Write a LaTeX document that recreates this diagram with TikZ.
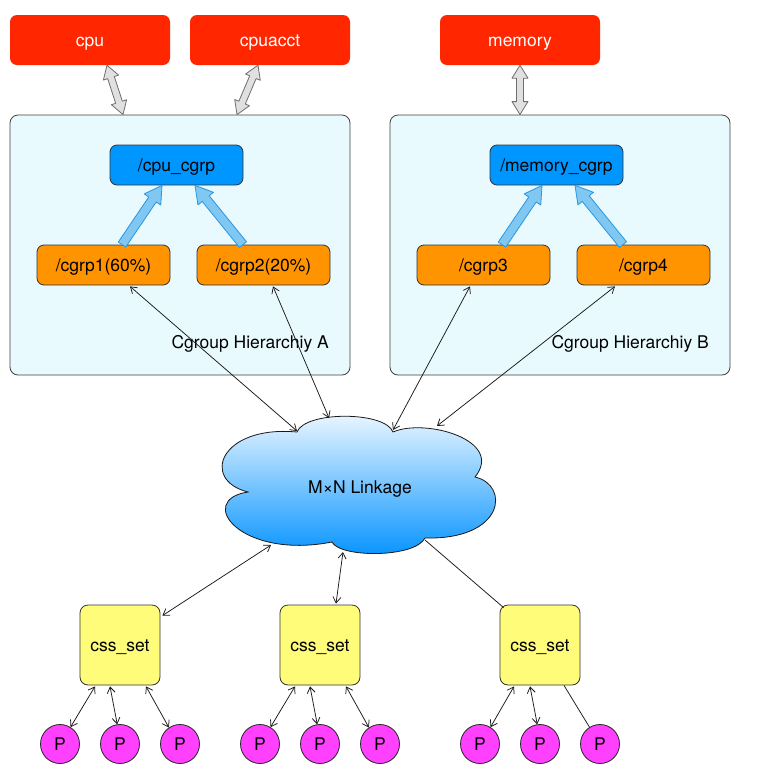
\documentclass[tikz,border=0pt]{standalone}
\usepackage{fontspec}
\setmainfont{TeX Gyre Heros}
\usetikzlibrary{arrows.meta,calc}
\definecolor{cgred}{RGB}{255,38,0}
\definecolor{cgcyan}{RGB}{233,250,255}
\definecolor{cgblue}{RGB}{0,150,255}
\definecolor{cgorange}{RGB}{255,147,0}
\definecolor{cgyellow}{RGB}{255,252,121}
\definecolor{cgmagenta}{RGB}{255,64,255}
\definecolor{fatfill}{RGB}{128,200,242}
\definecolor{fatborder}{RGB}{40,150,225}
\definecolor{grayfill}{RGB}{224,224,224}
\definecolor{grayborder}{RGB}{110,110,110}
\definecolor{cloudtop}{RGB}{238,248,255}
\definecolor{cloudbot}{RGB}{0,145,255}
\tikzset{
  txt/.style={text height=12.5pt, text depth=0pt},
  redbox/.style={txt, rectangle, rounded corners=7pt, fill=cgred, text=white, minimum width=160pt, minimum height=50pt, inner sep=0pt},
  hierbox/.style={rectangle, rounded corners=8pt, draw=black!75, fill=cgcyan, line width=0.8pt, minimum width=340pt, minimum height=260pt, inner sep=0pt},
  bluebox/.style={txt, rectangle, rounded corners=7pt, draw=black!80, fill=cgblue, line width=0.8pt, minimum width=133pt, minimum height=40pt, inner sep=0pt},
  orangebox/.style={txt, rectangle, rounded corners=7pt, draw=black!80, fill=cgorange, line width=0.8pt, minimum width=133pt, minimum height=40pt, inner sep=0pt},
  cssbox/.style={txt, rectangle, rounded corners=8pt, draw=black!80, fill=cgyellow, line width=0.8pt, minimum width=80pt, minimum height=80pt, inner sep=0pt},
  pnode/.style={txt, circle, draw=black!85, fill=cgmagenta, line width=0.8pt, minimum size=39pt, inner sep=0pt},
  link/.style={draw=black!90, line width=0.75pt},
  dlink/.style={link, {Straight Barb[length=6pt,width=8pt]}-{Straight Barb[length=6pt,width=8pt]}},
  fatarrow/.style={draw=fatborder, fill=fatfill, line width=0.8pt, line join=round,
    to path={
      ($(\tikztostart)!4.5pt!90:(\tikztotarget)$) --
      ($(\tikztotarget)!17pt!(\tikztostart)!4.5pt!90:(\tikztotarget)$) --
      ($(\tikztotarget)!17pt!(\tikztostart)!10pt!90:(\tikztotarget)$) --
      (\tikztotarget) --
      ($(\tikztotarget)!17pt!(\tikztostart)!10pt!-90:(\tikztotarget)$) --
      ($(\tikztotarget)!17pt!(\tikztostart)!4.5pt!-90:(\tikztotarget)$) --
      ($(\tikztostart)!4.5pt!-90:(\tikztotarget)$) -- cycle}},
  grayarrow/.style={draw=grayborder, fill=grayfill, line width=0.8pt, line join=round,
    to path={
      (\tikztostart) --
      ($(\tikztostart)!13pt!(\tikztotarget)!8pt!90:(\tikztotarget)$) --
      ($(\tikztostart)!13pt!(\tikztotarget)!3.5pt!90:(\tikztotarget)$) --
      ($(\tikztotarget)!13pt!(\tikztostart)!3.5pt!90:(\tikztotarget)$) --
      ($(\tikztotarget)!13pt!(\tikztostart)!8pt!90:(\tikztotarget)$) --
      (\tikztotarget) --
      ($(\tikztotarget)!13pt!(\tikztostart)!8pt!-90:(\tikztotarget)$) --
      ($(\tikztotarget)!13pt!(\tikztostart)!3.5pt!-90:(\tikztotarget)$) --
      ($(\tikztostart)!13pt!(\tikztotarget)!3.5pt!-90:(\tikztotarget)$) --
      ($(\tikztostart)!13pt!(\tikztotarget)!8pt!-90:(\tikztotarget)$) -- cycle}}
}
\begin{document}
\begin{tikzpicture}[x=1pt,y=-1pt,font=\fontsize{17.5}{20}\selectfont]
\useasboundingbox (0,0) rectangle (758,772);
\fill[white] (0,0) rectangle (758,772);

% subsystems
\node[redbox] (cpu) at (90,40) {cpu};
\node[redbox] (cpuacct) at (270,40) {cpuacct};
\node[redbox] (memory) at (520,40) {memory};

% hierarchies
\node[hierbox] (boxA) at (180,245) {};
\node[hierbox] (boxB) at (560,245) {};

\node[bluebox] (cpucgrp) at (176.5,165) {/cpu\_cgrp};
\node[bluebox] (memcgrp) at (556.5,165) {/memory\_cgrp};
\node[orangebox] (cgrp1) at (103.5,265) {/cgrp1(60\%)};
\node[orangebox] (cgrp2) at (263.5,265) {/cgrp2(20\%)};
\node[orangebox] (cgrp3) at (483.5,265) {/cgrp3};
\node[orangebox] (cgrp4) at (643.5,265) {/cgrp4};
\node[txt, anchor=east, inner sep=0pt] (labA) at (329,342) {Cgroup Hierarchiy A};
\node[txt, anchor=east, inner sep=0pt] (labB) at (709,342) {Cgroup Hierarchiy B};

% gray double arrows
\path[grayarrow] ([xshift=17pt]cpu.south) to ([xshift=-57pt]boxA.north);
\path[grayarrow] ([xshift=-12pt]cpuacct.south) to ([xshift=57pt]boxA.north);
\path[grayarrow] (memory.south) to ([xshift=-40pt]boxB.north);

% fat blue arrows
\path[fatarrow] ([xshift=18.5pt]cgrp1.north) to ([xshift=-14.5pt]cpucgrp.south);
\path[fatarrow] ([xshift=-20.5pt]cgrp2.north) to ([xshift=18.5pt]cpucgrp.south);
\path[fatarrow] ([xshift=18.5pt]cgrp3.north) to ([xshift=-14.5pt]memcgrp.south);
\path[fatarrow] ([xshift=-20.5pt]cgrp4.north) to ([xshift=18.5pt]memcgrp.south);

% cloud
\path[draw=black!90, line width=0.8pt, top color=cloudtop, bottom color=cloudbot]
  (297,432) .. controls (305,411) and (385,411) .. (393,432)
  .. controls (425,418) and (505,440) .. (475,477)
  .. controls (510,485) and (505,540) .. (425,538)
  .. controls (415,558) and (340,558) .. (332,542)
  .. controls (240,560) and (195,500) .. (248,492)
  .. controls (200,480) and (220,425) .. (297,432) -- cycle;
\node[txt] (linkage) at (360,487) {M×N Linkage};
\coordinate (cA) at (297,431);
\coordinate (cB) at (329,418);
\coordinate (cC) at (393,430);
\coordinate (cD) at (437,426);
\coordinate (cE) at (271,545);
\coordinate (cF) at (343,552);
\coordinate (cG) at (425,540);

\draw[dlink] ([xshift=26.5pt,yshift=-1pt]cgrp1.south) -- (cA);
\draw[dlink] ([xshift=9.5pt,yshift=-1pt]cgrp2.south) -- (cB);
\draw[dlink] ([xshift=-13.5pt,yshift=-1pt]cgrp3.south) -- (cC);
\draw[dlink] ([xshift=-28.5pt,yshift=-1pt]cgrp4.south) -- (cD);

% css sets
\node[cssbox] (css1) at (120,645) {css\_set};
\node[cssbox] (css2) at (320,645) {css\_set};
\node[cssbox] (css3) at (540,645) {css\_set};

\draw[dlink] (cE) -- ([xshift=2pt,yshift=-11pt]css1.north east);
\draw[dlink] (cF) -- ([xshift=16pt,yshift=1pt]css2.north);
\draw[link] (cG) -- ([xshift=4pt,yshift=-3pt]css3.north west);

% processes
\foreach \c/\x in {1/120,2/320,3/540}{
  \node[pnode] (p\c a) at (\x-60,744) {P};
  \node[pnode] (p\c b) at (\x,744) {P};
  \node[pnode] (p\c c) at (\x+60,744) {P};
}
\foreach \c in {1,2}{
  \draw[dlink] ([xshift=-25pt,yshift=-1pt]css\c.south) -- (p\c a.58);
  \draw[dlink] ([xshift=-10pt,yshift=-1pt]css\c.south) -- (p\c b.98);
  \draw[dlink] ([xshift=26pt,yshift=-1pt]css\c.south) -- (p\c c.124);
}
\draw[dlink] ([xshift=-26pt,yshift=-1pt]css3.south) -- (p3a.58);
\draw[dlink] ([xshift=-10pt,yshift=-1pt]css3.south) -- (p3b.98);
\draw[link] ([xshift=24pt]css3.south) -- (p3c.122);
\end{tikzpicture}
\end{document}
